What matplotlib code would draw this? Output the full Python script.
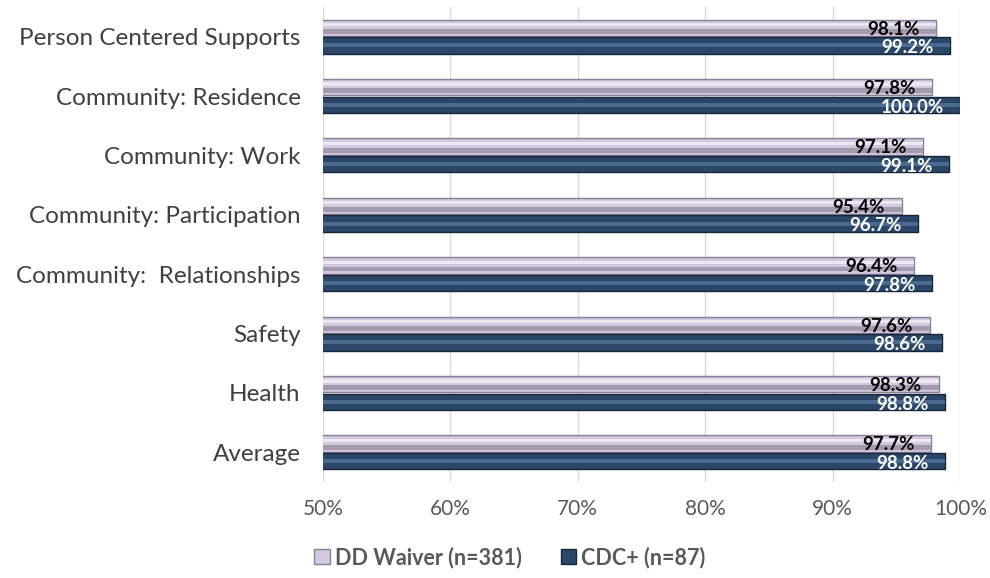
import numpy as np
import matplotlib.pyplot as plt
from matplotlib.ticker import FuncFormatter

plt.rcParams['font.family'] = ['Lato', 'DejaVu Sans']

# categories top to bottom
cats = ['Person Centered Supports', 'Community: Residence', 'Community: Work',
        'Community: Participation', 'Community:  Relationships', 'Safety',
        'Health', 'Average']
dd = [98.1, 97.8, 97.1, 95.4, 96.4, 97.6, 98.3, 97.7]
cdc = [99.2, 100.0, 99.1, 96.7, 97.8, 98.6, 98.8, 98.8]
names = ['DD Waiver (n=381)', 'CDC+ (n=87)']

fig = plt.figure(figsize=(9.9, 5.78), dpi=100)
ax = fig.add_axes([0.326, 0.166, 0.644, 0.822])

y = np.arange(len(cats))
h = 0.275

b1 = ax.barh(y - h/2 - 0.01, dd, height=h, left=0, color='#d4c8e0',
             edgecolor='#8a7f94', linewidth=1, label=names[0], zorder=3)
b2 = ax.barh(y + h/2 + 0.01, cdc, height=h, left=0, color='#2c4668',
             edgecolor='#17263a', linewidth=1, label=names[1], zorder=3)

# thin stripes for the bevel look
ax.barh(y - h/2 - 0.01 + h*0.22, dd, height=h*0.3, color='#a39aae', linewidth=0, zorder=4)
ax.barh(y - h/2 - 0.01 - h*0.2, dd, height=h*0.2, color='#ede6f3', linewidth=0, zorder=4)
ax.barh(y + h/2 + 0.01, cdc, height=h*0.25, color='#4a6a90', linewidth=0, zorder=4)

for i in range(len(cats)):
    ax.annotate(f'{dd[i]:.1f}%', (dd[i], y[i] - h/2 + 0.01), xytext=(-12, 0),
                textcoords='offset points', ha='right', va='center',
                fontsize=13.5, fontweight='bold', color='black', zorder=5)
    ax.annotate(f'{cdc[i]:.1f}%', (cdc[i], y[i] + h/2 + 0.05), xytext=(-12, 0),
                textcoords='offset points', ha='right', va='center',
                fontsize=13.5, fontweight='bold', color='white', zorder=5)

ax.set_xlim(50, 100)
ax.set_ylim(len(cats) - 0.5, -0.5)
ax.set_xticks(np.arange(50, 101, 10))
ax.xaxis.set_major_formatter(FuncFormatter(lambda v, p: f'{v:.0f}%'))
ax.set_yticks(y)
ax.set_yticklabels(cats, fontsize=17.5, color='#404040')
ax.tick_params(axis='x', labelsize=15, colors='#595959', length=0, pad=12)
ax.tick_params(axis='y', length=0, pad=16)
ax.grid(axis='x', color='#d9d9d9', linewidth=1, zorder=0)
for s in ax.spines.values():
    s.set_visible(False)

leg = fig.legend(handles=[b1, b2], labels=names, loc='center',
                 bbox_to_anchor=(0.515, 0.036), ncol=2, frameon=False,
                 handlelength=0.7, handleheight=0.7, handletextpad=0.25,
                 columnspacing=1.8, prop={'weight': 'bold', 'size': 15.5})
for t in leg.get_texts():
    t.set_color('#595959')

fig.savefig('out.png', dpi=100)
